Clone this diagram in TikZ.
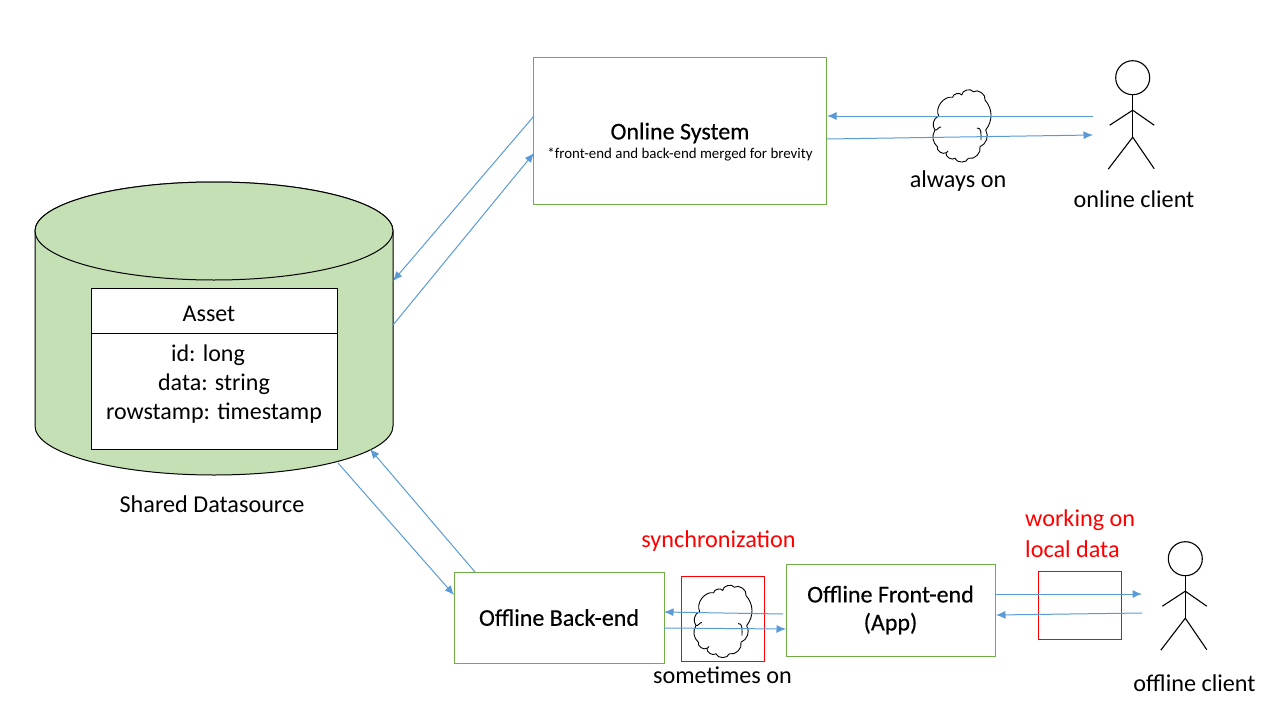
\documentclass[tikz,border=0pt]{standalone}
\usepackage{fontspec}
\setmainfont{Carlito}
\newfontfamily\shadowfont[FakeBold=0.35]{Carlito}
\usetikzlibrary{arrows.meta}
\definecolor{boxgreen}{HTML}{70AD47}
\definecolor{cylfill}{HTML}{C5E0B4}
\definecolor{flow}{HTML}{5B9BD5}
\tikzset{
  greenbox/.style={draw=boxgreen,fill=white,line width=1pt,inner sep=0pt,align=center,font=\shadowfont\fontsize{24}{28}\selectfont},
  redbox/.style={draw=red,line width=1pt,inner sep=0pt},
  flowline/.style={draw=flow,line width=1pt,-{Latex[length=9.5pt,width=8pt]}},
  label/.style={inner sep=0pt,font=\fontsize{24.2}{28}\selectfont},
  redlabel/.style={label,text=red},
  stick/.style={draw=black,line width=1.1pt},
  cloudline/.style={draw=black,line width=0.9pt,line join=round},
  rowtext/.style={inner sep=0pt,font=\fontsize{24}{28}\selectfont},
}
\newcommand{\stickman}[1]{%
  \begin{scope}[shift={#1}]
    \draw[stick] (0,0) circle[radius=17];
    \draw[stick] (0,17) -- (0,59.5);
    \draw[stick] (-23,47.5) -- (0,32.5) -- (21.5,47.5);
    \draw[stick] (-24.5,91.5) -- (0,59.5) -- (21.5,91);
  \end{scope}}
\newcommand{\cloudshape}[1]{%
  \begin{scope}[shift={#1}]
    \draw[cloudline] (-22.3,-10)
      to[bend left=65] (-8.3,-28.7)
      to[bend left=75] (0.7,-31)
      to[bend left=75] (12.3,-34.3)
      to[bend left=70] (24,-26)
      to[bend left=40] (24.7,4)
      to[bend left=50] (19,20.7)
      to[bend left=60] (7.3,32.3)
      to[bend left=75] (-6,32.3)
      to[bend left=70] (-15,26.7)
      to[bend left=70] (-23.7,20.7)
      to[bend left=40] (-26,4)
      to[bend left=55] (-22.3,-10);
    \draw[cloudline] (-26,4) to[out=-20,in=170] (-20,1);
    \draw[cloudline] (16,2) to[out=10,in=90] (20,14);
    \draw[cloudline] (-15,26.7) to[out=-40,in=200] (-13,25);
  \end{scope}}
\begin{document}
\begin{tikzpicture}[x=1pt,y=-1pt]
\useasboundingbox (0,0) rectangle (1280,720);
\fill[white] (0,0) rectangle (1280,720);

% cylinder
\draw[fill=cylfill,draw=black,line width=1pt]
  (35,231) -- (35,426) arc[start angle=180,end angle=360,x radius=179,y radius=-49]
  -- (393,231) arc[start angle=0,end angle=180,x radius=179,y radius=-49] -- cycle;
\draw[fill=cylfill,draw=black,line width=1pt] (214,231) ellipse[x radius=179,y radius=49];

% asset table
\node[draw=black,fill=white,line width=1pt,minimum width=246pt,minimum height=161pt,inner sep=0pt] (table) at (214,368.5) {};
\coordinate (divL) at (91,333);
\coordinate (divR) at (337,333);
\draw[black,line width=1pt] (divL) -- (divR);
\node[rowtext] (asset) at (209,314) {Asset};
\node[rowtext] (idrow) at (208,355) {id: long};
\node[rowtext] (datarow) at (214,384) {data: string};
\node[rowtext] (stamprow) at (214,413) {rowstamp: timestamp};
\node[label] (shared) at (212,504) {Shared Datasource};

% boxes
\node[greenbox,minimum width=293pt,minimum height=147pt] (online) at (679.5,130.5) {};
\node[inner sep=0pt,font=\shadowfont\fontsize{24}{28}\selectfont] (onlinetitle) at (680,133) {Online System};
\node[inner sep=0pt,font=\fontsize{14.9}{18}\selectfont] (onlinesub) at (680,154) {*front-end and back-end merged for brevity};
\node[greenbox,minimum width=210pt,minimum height=91pt] (backend) at (559,617.5) {Offline Back-end};
\node[greenbox,minimum width=209pt,minimum height=92pt] (frontend) at (890.5,610) {Offline Front-end\\[0pt](App)};
\node[redbox,minimum width=83pt,minimum height=85pt] (syncbox) at (722.5,618.5) {};
\node[redbox,minimum width=83pt,minimum height=68pt] (localbox) at (1079.5,605) {};

% clouds
\cloudshape{(961,126)}
\cloudshape{(722,621.5)}

% actors
\stickman{(1132.7,77.7)}
\stickman{(1185.3,558.7)}

% free ends
\coordinate (cylA) at (393,281);
\coordinate (cylB) at (393,325);
\coordinate (cylC) at (338,463);
\coordinate (cylD) at (370,449);
\coordinate (onA) at (534,116);
\coordinate (onB) at (534,153);
\coordinate (beA) at (454,595);
\coordinate (beB) at (475,572);
\coordinate (cliA) at (1093,116);
\coordinate (cliB) at (1093,135);
\coordinate (onC) at (827,116);
\coordinate (onD) at (827,139);
\coordinate (feA) at (783,614);
\coordinate (beC) at (664,612);
\coordinate (beD) at (664,628);
\coordinate (feB) at (786,629);
\coordinate (feC) at (995,594);
\coordinate (offA) at (1142,594);
\coordinate (offB) at (1142,613);
\coordinate (feD) at (996,615);

% connectors
\draw[flowline] (onA) -- (cylA);
\draw[flowline] (cylB) -- (onB);
\draw[flowline] (cylC) -- (beA);
\draw[flowline] (beB) -- (cylD);
\draw[flowline] (cliA) -- (onC);
\draw[flowline] (onD) -- (cliB);
\draw[flowline] (feA) -- (beC);
\draw[flowline] (beD) -- (feB);
\draw[flowline] (feC) -- (offA);
\draw[flowline] (offB) -- (feD);

% labels
\node[label] (always) at (958,181) {always on};
\node[label] (onclient) at (1134,199) {online client};
\node[redlabel] (sync) at (718.5,541) {synchronization};
\node[label] (some) at (722.5,675) {sometimes on};
\node[redlabel,anchor=west] (work) at (1025,520) {working on};
\node[redlabel,anchor=west] (local) at (1025,549) {local data};
\node[label] (offclient) at (1194.5,683) {offline client};
\end{tikzpicture}
\end{document}
